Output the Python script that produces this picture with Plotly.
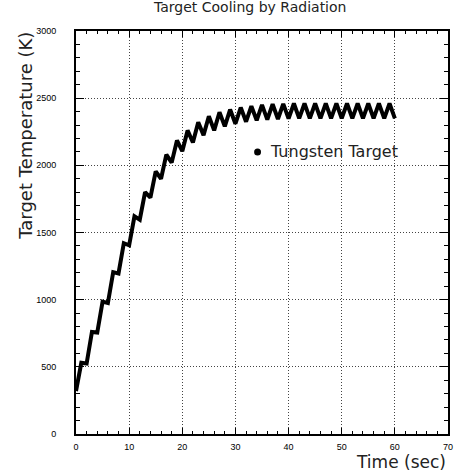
import plotly.graph_objects as go

# time (s) and target temperature (K)
time_s = list(range(0, 61))
temp_K = [320, 530, 525, 760, 755, 985, 975, 1205, 1195, 1420,
          1405, 1620, 1595, 1800, 1760, 1955, 1900, 2080, 2020, 2185,
          2105, 2260, 2170, 2320, 2225, 2365, 2260, 2395, 2290, 2415,
          2310, 2430, 2325, 2440, 2335, 2450, 2340, 2455, 2345, 2458,
          2348, 2460, 2350, 2460, 2350, 2460, 2350, 2460, 2350, 2460,
          2350, 2460, 2350, 2460, 2350, 2460, 2350, 2460, 2350, 2460,
          2350]
series_name = "Tungsten Target"
title_text = "Target Cooling by Radiation"
x_title = "Time (sec)"
y_title = "Target Temperature (K)"

FONT = "DejaVu Sans"
W, H = 459, 475
L, R, T, B = 76, 6, 31, 41
pw, ph = W - L - R, H - T - B

def px(x):
    return (x - L) / pw

def py(y):
    return (H - B - y) / ph

fig = go.Figure()
fig.add_trace(go.Scatter(x=time_s, y=temp_K, mode="lines",
                         line=dict(color="black", width=4),
                         name=series_name, showlegend=False))

axis_common = dict(
    showline=True, linecolor="black", linewidth=2, mirror="allticks",
    ticks="inside", tickcolor="black", tickwidth=1,
    showgrid=True, gridcolor="#444444", griddash="1px,2px", gridwidth=1,
    zeroline=False,
    tickfont=dict(family="Liberation Sans", size=9, color="black"),
)

fig.update_xaxes(range=[0, 70], dtick=10, tick0=0, ticklen=6,
                 ticklabelstandoff=3,
                 minor=dict(dtick=2, ticklen=3, ticks="inside", tickcolor="black", showgrid=False),
                 **axis_common)
fig.update_yaxes(range=[0, 3000], dtick=500, tick0=0, ticklen=8,
                 ticklabelstandoff=16,
                 minor=dict(dtick=100, ticklen=4, ticks="inside", tickcolor="black", showgrid=False),
                 **axis_common)

fig.add_annotation(text=title_text, xref="paper", yref="paper",
                   x=px(252), y=py(7), xanchor="center", yanchor="middle",
                   showarrow=False, font=dict(family=FONT, size=14, color="#222222"))
fig.add_annotation(text=x_title, xref="paper", yref="paper",
                   x=px(453), y=py(462), xanchor="right", yanchor="middle",
                   showarrow=False, font=dict(family=FONT, size=17, color="#222222"))
fig.add_annotation(text=y_title, xref="paper", yref="paper", textangle=-90,
                   x=px(24), y=py(30), xanchor="center", yanchor="top",
                   showarrow=False, font=dict(family=FONT, size=18, color="#222222"))
# legend
fig.add_shape(type="circle", xref="paper", yref="paper",
              x0=px(256.5), x1=px(263.5), y0=py(155.5), y1=py(148.5),
              fillcolor="black", line=dict(color="black", width=0))
fig.add_annotation(text=series_name, xref="paper", yref="paper",
                   x=px(271), y=py(152), xanchor="left", yanchor="middle",
                   showarrow=False, font=dict(family=FONT, size=16, color="#222222"))

fig.update_layout(width=W, height=H, margin=dict(l=L, r=R, t=T, b=B),
                  paper_bgcolor="white", plot_bgcolor="white", showlegend=False)

fig.write_html("out.html")
